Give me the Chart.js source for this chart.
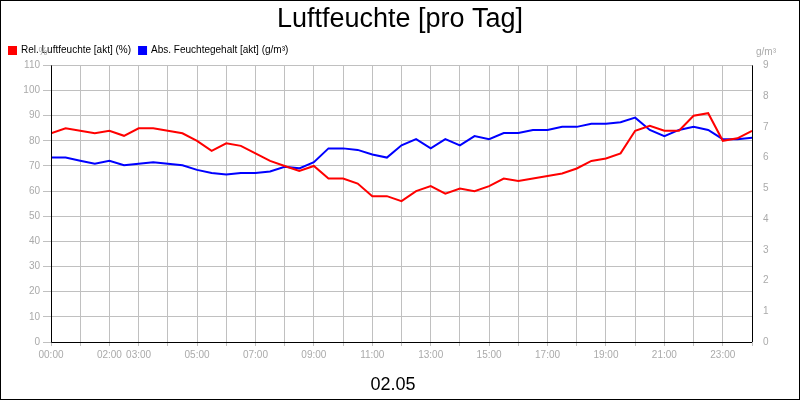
<!DOCTYPE html>
<html>
<head>
<meta charset="utf-8">
<script src="https://cdn.jsdelivr.net/npm/chart.js"></script>
<style>
  body { margin: 0; background: #fff; }
  #wrap { width: 800px; height: 400px; position: relative; box-sizing: border-box; border: 1px solid #000; }
</style>
</head>
<body>
<div id="wrap"><canvas id="chart" width="798" height="398"></canvas></div>
<script>
// half-hour steps, minutes since midnight
const minutes = Array.from({length: 49}, (_, i) => i * 30);
const relHumidity = [83, 85, 84, 83, 84, 82, 85, 85, 84, 83, 80, 76, 79, 78, 75, 72, 70, 68, 70, 65,
  65, 63, 58, 58, 56, 60, 62, 59, 61, 60, 62, 65, 64, 65, 66, 67, 69, 72, 73, 75,
  84, 86, 84, 84, 90, 91, 80, 81, 84];
const absHumidity = [6.0, 6.0, 5.9, 5.8, 5.9, 5.75, 5.8, 5.85, 5.8, 5.75, 5.6, 5.5, 5.45, 5.5, 5.5, 5.55,
  5.7, 5.65, 5.85, 6.3, 6.3, 6.25, 6.1, 6.0, 6.4, 6.6, 6.3, 6.6, 6.4, 6.7, 6.6, 6.8, 6.8, 6.9,
  6.9, 7.0, 7.0, 7.1, 7.1, 7.15, 7.3, 6.9, 6.7, 6.9, 7.0, 6.9, 6.6, 6.6, 6.65];
const shownHours = [0, 2, 3, 5, 7, 9, 11, 13, 15, 17, 19, 21, 23];

const fmt = h => String(h).padStart(2, '0') + ':00';

const frame = {
  id: 'frame',
  afterDraw(chart) {
    const c = chart.ctx, a = chart.chartArea;
    c.save();
    c.fillStyle = '#000';
    c.font = '18px "Liberation Sans"';
    c.textAlign = 'center';
    c.fillText('02.05', 392, 384);
    c.fillStyle = '#aaa';
    c.font = '10px "Liberation Sans"';
    c.fillText('%', 42, 51);
    c.fillText('g/m³', 765, 51);
    c.strokeStyle = '#000';
    c.lineWidth = 1;
    c.beginPath();
    c.moveTo(a.left + 0.5, a.top); c.lineTo(a.left + 0.5, a.bottom + 0.5);
    c.lineTo(a.right, a.bottom + 0.5);
    c.moveTo(a.right + 0.5, a.top); c.lineTo(a.right + 0.5, a.bottom);
    c.stroke();
    c.restore();
  }
};

new Chart(document.getElementById('chart'), {
  type: 'line',
  data: {
    datasets: [
      { label: 'Rel. Luftfeuchte [akt] (%)', data: minutes.map((m, i) => ({x: m, y: relHumidity[i]})),
        borderColor: '#ff0000', backgroundColor: '#ff0000', borderWidth: 2, pointRadius: 0, yAxisID: 'y' },
      { label: 'Abs. Feuchtegehalt [akt] (g/m³)', data: minutes.map((m, i) => ({x: m, y: absHumidity[i]})),
        borderColor: '#0000ff', backgroundColor: '#0000ff', borderWidth: 2, pointRadius: 0, yAxisID: 'y1' }
    ]
  },
  options: {
    responsive: false,
    animation: false,
    layout: { padding: 0 },
    plugins: {
      title: { display: true, text: 'Luftfeuchte [pro Tag]', color: '#000',
        font: { size: 27, family: 'Liberation Sans', weight: 'normal' }, padding: { top: 2, bottom: 2 } },
      legend: { position: 'top', align: 'start',
        labels: { boxWidth: 7, boxHeight: 7, color: '#000', font: { size: 10, family: 'Liberation Sans' }, padding: 8 } },
      tooltip: { enabled: false }
    },
    scales: {
      x: { type: 'linear', min: 0, max: 1440,
        afterBuildTicks: s => { s.ticks = Array.from({length: 25}, (_, h) => ({value: h * 60})); },
        afterFit: s => { s.height = 57; },
        ticks: { autoSkip: false, maxRotation: 0, color: '#aaa', font: { size: 10, family: 'Liberation Sans' },
          callback: v => shownHours.includes(v / 60) ? fmt(v / 60) : '' },
        grid: { color: '#c0c0c0', drawTicks: true, tickLength: 4 }, border: { display: false } },
      y: { position: 'left', min: 0, max: 110, afterFit: s => { s.width = 50; },
        ticks: { stepSize: 10, color: '#aaa', font: { size: 10, family: 'Liberation Sans' } },
        grid: { color: '#c0c0c0' }, border: { display: false } },
      y1: { position: 'right', min: 0, max: 9, afterFit: s => { s.width = 47; },
        ticks: { stepSize: 1, color: '#aaa', font: { size: 10, family: 'Liberation Sans' } },
        grid: { display: false }, border: { display: false } }
    }
  },
  plugins: [frame]
});
</script>
</body>
</html>
